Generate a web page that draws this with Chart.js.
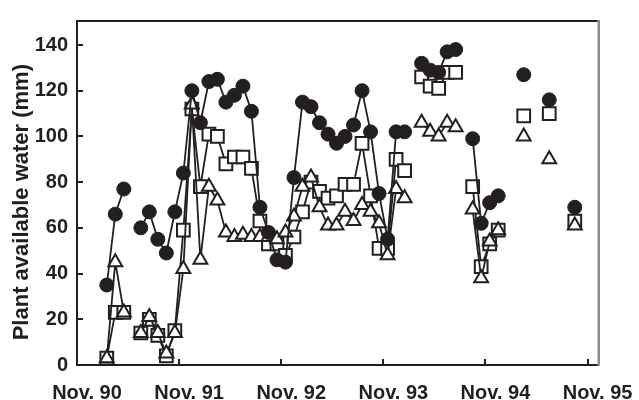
<!DOCTYPE html>
<html>
<head>
<meta charset="utf-8">
<script src="https://cdn.jsdelivr.net/npm/chart.js@4.4.0/dist/chart.umd.min.js"></script>
<style>
  html, body { margin: 0; padding: 0; background: #fff; }
</style>
</head>
<body>
<canvas id="myChart" width="639" height="400"></canvas>
<script>
// sampling dates, months after Nov. 1990 (null rows break the lines)
const months = [
  3.5, 4.5, 5.5, 6.5, 7.5, 8.5, 9.5, 10.5, 11.5, 12.5,
  13.5, 14.5, 15.5, 16.5, 17.5, 18.5, 19.5, 20.5, 21.5, 22.5,
  23.5, 24.5, 25.5, 26.5, 27.5, 28.5, 29.5, 30.5, 31.5, 32.5,
  33.5, 34.5, 35.5, 36.5, 37.5, 38.5, 39.5, 40.5, 41.5, 42.5,
  43.5, 44.5, 45.5, 46.5, 47.5, 48.5, 49.5, 50.5, 51.5, 52.5,
  53.5, 54.5, 55.5, 56.5, 57.5, 58.5
];

// filled circles
const circleSeries = [
  35, 66, 77, null, 60, 67, 55, 49, 67, 84,
  120, 106, 124, 125, 115, 118, 122, 111, 69, 58,
  46, 45, 82, 115, 113, 106, 101, 97, 100, 105,
  120, 102, 75, 55, 102, 102, null, 132, 129, 128,
  137, 138, null, 99, 62, 71, 74, null, null, 127,
  null, null, 116, null, null, 69
];

// open squares
const squareSeries = [
  3, 23, 23, null, 14, 20, 13, 4, 15, 59,
  112, 78, 101, 100, 88, 91, 91, 86, 63, 53,
  53, 48, 56, 67, 80, 76, 73, 74, 79, 79,
  97, 74, 51, 51, 90, 85, null, 126, 122, 121,
  128, 128, null, 78, 43, 53, 59, null, null, 109,
  null, null, 110, null, null, 63
];

// open triangles
const triangleSeries = [
  3, 45, 23, null, 14, 21, 14, 5, 14, 42,
  114, 46, 78, 72, 58, 56, 57, 56, 56, 56,
  55, 58, 65, 78, 82, 69, 61, 61, 67, 63,
  70, 67, 62, 48, 77, 73, null, 106, 102, 100,
  106, 104, null, 68, 38, 54, 59, null, null, 100,
  null, null, 90, null, null, 61
];

const xTickMonths = [0, 12, 24, 36, 48, 60];
const xTickLabels = ["Nov. 90", "Nov. 91", "Nov. 92", "Nov. 93", "Nov. 94", "Nov. 95"];
const yTicks = [0, 20, 40, 60, 80, 100, 120, 140];

const ink = "#231f20";

function toPoints(series) {
  return months.map((m, i) => ({ x: m, y: series[i] }));
}

// top/right frame and the small inward tick marks
const framePlugin = {
  id: "frame",
  beforeDatasetsDraw(chart) {
    const { ctx, chartArea: a, scales } = chart;
    ctx.save();
    ctx.strokeStyle = ink;
    ctx.lineWidth = 2;
    ctx.beginPath();
    ctx.moveTo(a.left, a.top);
    ctx.lineTo(a.right, a.top);
    yTicks.forEach(v => {
      const y = Math.round(scales.y.getPixelForValue(v));
      ctx.moveTo(a.left, y);
      ctx.lineTo(a.left + 6, y);
    });
    xTickMonths.forEach(m => {
      const x = Math.round(scales.x.getPixelForValue(m));
      ctx.moveTo(x, a.bottom);
      ctx.lineTo(x, a.bottom - 6);
    });
    ctx.stroke();
    ctx.strokeStyle = "#8c8c8c";
    ctx.lineWidth = 2.5;
    ctx.beginPath();
    ctx.moveTo(a.right + 1, a.top - 1);
    ctx.lineTo(a.right + 1, a.bottom + 1);
    ctx.stroke();
    ctx.restore();
  }
};

Chart.defaults.font.family = "'Liberation Sans', Arial, sans-serif";
Chart.defaults.font.weight = "bold";
Chart.defaults.color = ink;

const ctx = document.getElementById("myChart").getContext("2d");

new Chart(ctx, {
  type: "line",
  data: {
    datasets: [
      {
        data: toPoints(circleSeries),
        borderColor: ink,
        borderWidth: 1.8,
        pointStyle: "circle",
        pointRadius: 7,
        pointBackgroundColor: ink,
        pointBorderColor: ink,
        pointBorderWidth: 1,
        clip: false
      },
      {
        data: toPoints(triangleSeries),
        borderColor: ink,
        borderWidth: 1.8,
        pointStyle: "triangle",
        pointRadius: 8,
        pointBackgroundColor: "#fff",
        pointBorderColor: ink,
        pointBorderWidth: 2,
        clip: false
      },
      {
        data: toPoints(squareSeries),
        borderColor: ink,
        borderWidth: 1.8,
        pointStyle: "rect",
        pointRadius: 9,
        pointBackgroundColor: "#fff",
        pointBorderColor: ink,
        pointBorderWidth: 2,
        clip: false
      }
    ]
  },
  options: {
    responsive: false,
    animation: false,
    devicePixelRatio: 1,
    spanGaps: false,
    layout: { padding: { top: 13, right: 32, left: 0, bottom: 0 } },
    plugins: {
      legend: { display: false },
      tooltip: { enabled: false }
    },
    scales: {
      x: {
        type: "linear",
        min: 0,
        max: 61.2,
        grid: { display: false, drawTicks: false },
        border: { color: ink, width: 2 },
        afterBuildTicks: s => { s.ticks = xTickMonths.map(v => ({ value: v })); },
        afterFit: s => { s.height = 35; },
        ticks: {
          autoSkip: false,
          maxRotation: 0,
          labelOffset: 10,
          padding: 16,
          font: { size: 20, weight: "bold" },
          callback: (v, i) => xTickLabels[i]
        }
      },
      y: {
        min: 0,
        max: 150.5,
        grid: { display: false, drawTicks: false },
        border: { color: ink, width: 2 },
        afterBuildTicks: s => { s.ticks = yTicks.map(v => ({ value: v })); },
        afterFit: s => { s.width = 77; },
        ticks: {
          padding: 9,
          font: { size: 20, weight: "bold" }
        },
        title: {
          display: true,
          // trailing spaces nudge the centred title a little downwards
          text: "Plant available water (mm)\u00a0\u00a0\u00a0",
          font: { size: 22, weight: "bold" },
          padding: { top: 9, bottom: 0 }
        }
      }
    }
  },
  plugins: [framePlugin]
});
</script>
</body>
</html>
